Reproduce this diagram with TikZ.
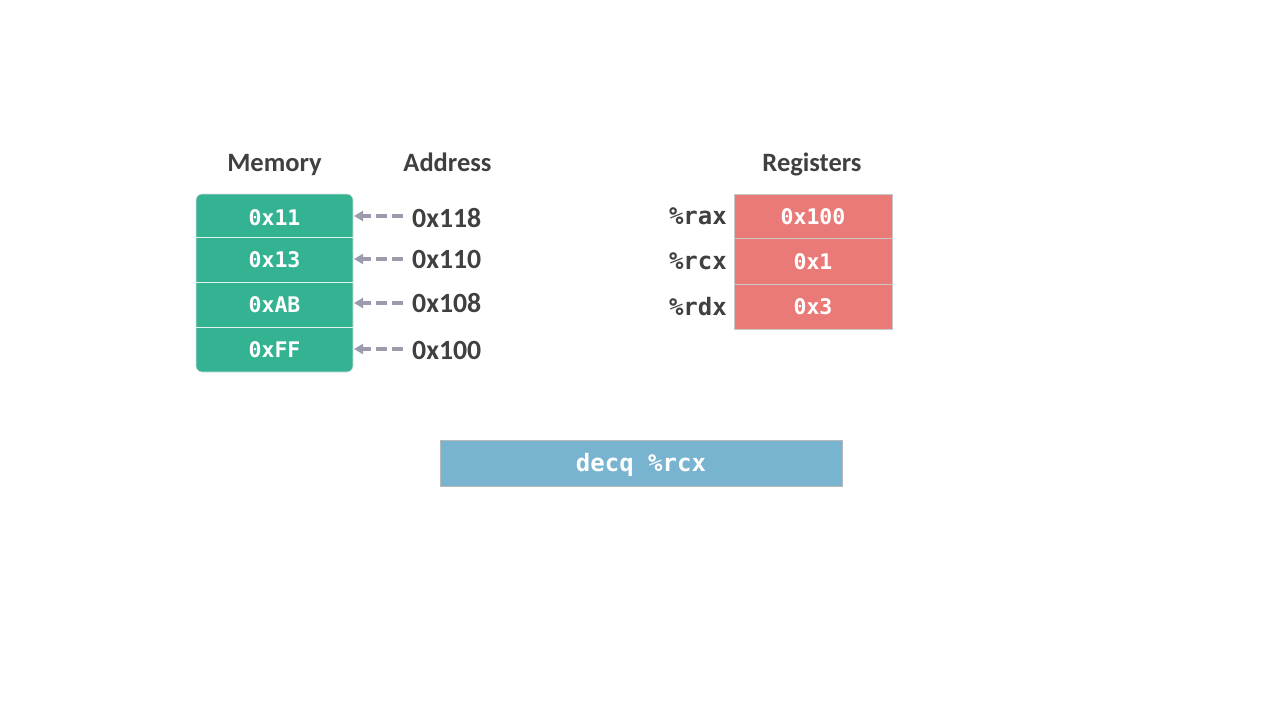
\documentclass[tikz,border=0pt]{standalone}
\usepackage{fontspec}
\setmainfont{Carlito}
\newfontfamily\monof{DejaVu Sans Mono}
\usetikzlibrary{arrows.meta}
\definecolor{memgreen}{HTML}{34B393}
\definecolor{regred}{HTML}{EA7A78}
\definecolor{insblue}{HTML}{78B4CF}
\definecolor{txtgray}{HTML}{404040}
\definecolor{arrgray}{HTML}{9E9AAE}
\definecolor{bordgray}{HTML}{C8C8C8}
\tikzset{
  header/.style={font=\fontsize{26.5}{26.5}\selectfont\bfseries, text=txtgray, anchor=base, inner sep=0pt},
  addr/.style={font=\fontsize{27.8}{27.8}\selectfont\bfseries, text=txtgray, anchor=base west, inner sep=0pt},
  cellfont/.style={font=\monof\fontsize{21.5}{21.5}\selectfont\bfseries, text=white, anchor=base, inner sep=0pt},
  regname/.style={font=\monof\fontsize{24}{24}\selectfont\bfseries, text=txtgray, anchor=base east, inner sep=0pt},
  regcell/.style={draw=bordgray, fill=regred, line width=0.8pt},
  ptr/.style={draw=arrgray, line width=3.4pt, dash pattern=on 11pt off 5pt, -{Triangle[length=9pt,width=10pt]}},
}
\begin{document}
\begin{tikzpicture}[x=1pt,y=-1pt]
\useasboundingbox (0,0) rectangle (1280,720);
% Memory block
\fill[memgreen, rounded corners=6pt] (196,194) rectangle (353,372);
\draw[bordgray!60, line width=0.6pt, rounded corners=6pt] (196,194) rectangle (353,372);
\draw[white!85!memgreen, line width=1pt] (196,237) -- (353,237) (196,282) -- (353,282) (196,327) -- (353,327);
\node[cellfont] (m1) at (274.5,225) {0x11};
\node[cellfont] (m2) at (274.5,267.5) {0x13};
\node[cellfont] (m3) at (274.5,312.5) {0xAB};
\node[cellfont] (m4) at (274.5,357.5) {0xFF};
\coordinate (e1) at (354,216);
\coordinate (e2) at (354,259);
\coordinate (e3) at (354,303);
\coordinate (e4) at (354,349);
% Headers
\node[header] (hmem) at (274.5,171) {Memory};
\node[header] (haddr) at (447.5,171) {Address};
\node[header] (hreg) at (812,171) {Registers};
% Addresses
\node[addr] (a1) at (412,227) {0x118};
\node[addr] (a2) at (412,268) {0x110};
\node[addr] (a3) at (412,312) {0x108};
\node[addr] (a4) at (412,359) {0x100};
\draw[ptr] (403,216) -- (e1);
\draw[ptr] (403,259) -- (e2);
\draw[ptr] (403,303) -- (e3);
\draw[ptr] (403,349) -- (e4);
% Registers
\draw[regcell] (734,194) rectangle (892,238);
\draw[regcell] (734,238) rectangle (892,284);
\draw[regcell] (734,284) rectangle (892,329);
\node[cellfont] (r1) at (813,224) {0x100};
\node[cellfont] (r2) at (813,269) {0x1};
\node[cellfont] (r3) at (813,314.5) {0x3};
\node[regname] (n1) at (727,224.5) {\%rax};
\node[regname] (n2) at (727,269.5) {\%rcx};
\node[regname] (n3) at (727,315) {\%rdx};
% Instruction
\node[draw=bordgray!80!gray, fill=insblue, minimum width=402pt, minimum height=46pt, inner sep=0pt] (ins) at (641,463) {};
\node[font=\monof\fontsize{24}{24}\selectfont\bfseries, text=white, anchor=base, inner sep=0pt] (instxt) at (ins.center |- 0,471.5) {decq \%rcx};
\end{tikzpicture}
\end{document}
